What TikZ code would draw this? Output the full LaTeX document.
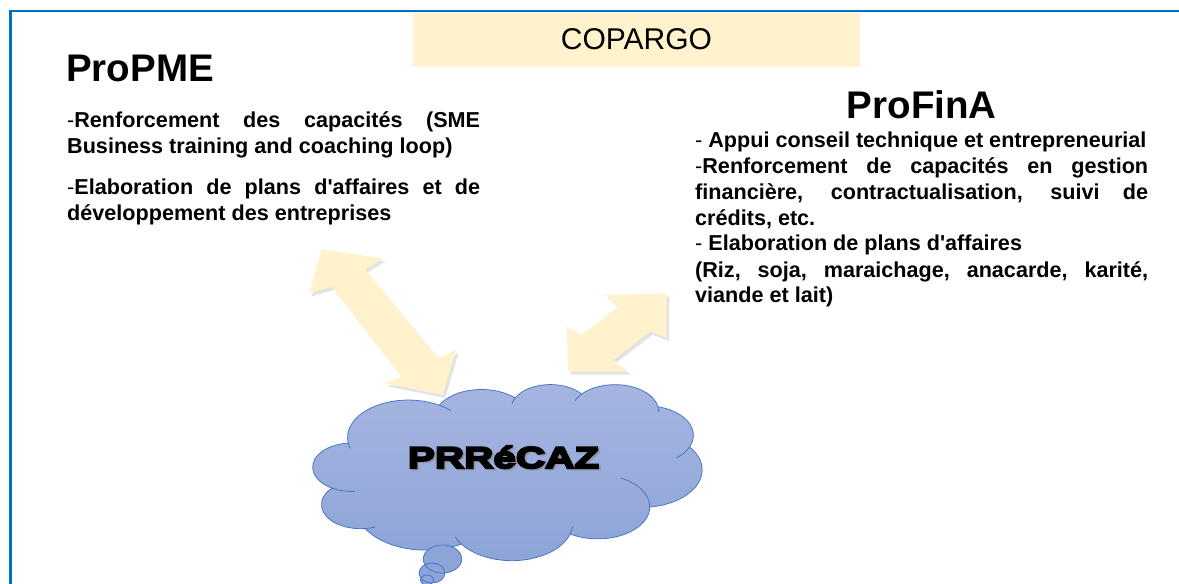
\documentclass[tikz,border=0pt]{standalone}
\usepackage{graphicx}
\usepackage{fontspec}
\setmainfont{Liberation Sans}
\newfontfamily\heavyfont[FakeBold=7,FakeStretch=1.35]{Liberation Sans Bold}
\usetikzlibrary{shadows}
\definecolor{frameblue}{HTML}{0070C0}
\definecolor{paleyellow}{HTML}{FFF2CC}
\definecolor{cloudtop}{HTML}{A6B5E0}
\definecolor{cloudbot}{HTML}{8DA4D8}
\definecolor{cloudline}{HTML}{4472C4}
\begin{document}
\begin{tikzpicture}[x=1pt,y=-1pt,
  bodytext/.style={anchor=base west, inner sep=0pt, font=\bfseries\fontsize{21.6}{25.7}\selectfont},
  titletext/.style={inner sep=0pt, font=\bfseries\fontsize{38.5}{44}\selectfont},
  blockarrow/.style={fill=paleyellow, draw=none, drop shadow={shadow xshift=2.5pt, shadow yshift=-3pt, opacity=0.22}},
  cloudedge/.style={draw=cloudline, line width=0.75pt},
  cloudlabel/.style={anchor=base, inner sep=0pt, font=\heavyfont\fontsize{30}{32}\selectfont},
]
\useasboundingbox (0,0) rectangle (1179,584);
\clip (0,0) rectangle (1179,584);
\fill[white] (0,0) rectangle (1179,584);

% frame
\draw[frameblue, line width=2.5pt] (10.5,600) -- (10.5,11) -- (1200,11);

% COPARGO banner
\fill[paleyellow] (413,13) rectangle (860,67);
\node[anchor=base, inner sep=0pt, font=\fontsize{30}{36}\selectfont] (copargo) at (636.5,49.3) {COPARGO};

% ProPME
\node[titletext, anchor=base west] (propme) at (66,81.7) {ProPME};
\node[bodytext] (l1) at (67,127.7) {\makebox[413pt][s]{{\mdseries-}Renforcement des capacités (SME}};
\node[bodytext] (l2) at (67,153.3) {Business training and coaching loop)};
\node[bodytext] (l3) at (67,194.3) {\makebox[413pt][s]{{\mdseries-}Elaboration de plans d\textquotesingle affaires et de}};
\node[bodytext] (l4) at (67,220) {développement des entreprises};

% ProFinA
\node[titletext, anchor=base] (profina) at (921.7,118.3) {ProFinA};
\node[bodytext] (r1) at (695,147.7) {{\mdseries-} Appui conseil technique et entrepreneurial};
\node[bodytext] (r2) at (695,173.3) {\makebox[453pt][s]{{\mdseries-}Renforcement de capacités en gestion}};
\node[bodytext] (r3) at (695,199.5) {\makebox[453pt][s]{financière, contractualisation, suivi de}};
\node[bodytext] (r4) at (695,225.5) {crédits, etc.};
\node[bodytext] (r5) at (695,250.7) {{\mdseries-} Elaboration de plans d\textquotesingle affaires};
\node[bodytext] (r6) at (695,277) {\makebox[453pt][s]{(Riz, soja, maraichage, anacarde, karité,}};
\node[bodytext] (r7) at (695,302.7) {viande et lait)};

% cloud
\begin{scope}[shift={(313pt,-384pt)}, x=0.90046pt, y=-0.40741pt]
\draw[cloudedge, top color=cloudtop, bottom color=cloudbot] (39.00,143.70)
  arc[x radius=67.53, y radius=91.90, start angle=172.25, end angle=300.36]
  arc[x radius=53.33, y radius=72.67, start angle=-152.02, end angle=-45.43]
  arc[x radius=43.65, y radius=59.45, start angle=-153.49, end angle=-37.32]
  arc[x radius=48.57, y radius=65.95, start angle=-139.69, end angle=-10.21]
  arc[x radius=53.33, y radius=72.73, start angle=-74.77, end angle=23.21]
  arc[x radius=67.75, y radius=92.20, start angle=-37.52, end angle=81.86]
  arc[x radius=57.85, y radius=78.67, start angle=0.46, end angle=121.98]
  arc[x radius=67.52, y radius=92.15, start angle=16.84, end angle=146.23]
  arc[x radius=77.20, y radius=105.43, start angle=58.99, end angle=150.20]
  arc[x radius=43.60, y radius=59.18, start angle=83.31, end angle=223.11]
  arc[x radius=43.45, y radius=59.45, start angle=120.36, end angle=264.11]
  -- cycle;
% creases
\draw[cloudedge] (43.08,204.23) ++(85.55:43.45 and 59.45) arc[x radius=43.45, y radius=59.45, start angle=85.55, end angle=120.36];
\draw[cloudedge] (52.96,295.95) ++(68.24:43.60 and 59.18) arc[x radius=43.60, y radius=59.18, start angle=68.24, end angle=83.31];
\draw[cloudedge] (220.93,341.47) ++(146.23:67.52 and 92.15) arc[x radius=67.52, y radius=92.15, start angle=146.23, end angle=158.47];
\draw[cloudedge] (220.93,341.47) ++(4.74:67.52 and 92.15) arc[x radius=67.52, y radius=92.15, start angle=4.74, end angle=16.84];
\draw[cloudedge] (316.19,301.43) ++(-64.03:57.85 and 78.67) arc[x radius=57.85, y radius=78.67, start angle=-64.03, end angle=0.46];
\draw[cloudedge] (369.18,125.98) ++(23.21:53.33 and 72.73) arc[x radius=53.33, y radius=72.73, start angle=23.21, end angle=49.63];
\draw[cloudedge] (335.39,67.49) ++(-10.21:48.57 and 65.95) arc[x radius=48.57, y radius=65.95, start angle=-10.21, end angle=0.82];
\draw[cloudedge] (335.39,67.49) ++(-156.29:48.57 and 65.95) arc[x radius=48.57, y radius=65.95, start angle=-156.29, end angle=-139.69];
\draw[cloudedge] (263.63,60.88) ++(-167.73:43.65 and 59.45) arc[x radius=43.65, y radius=59.45, start angle=-167.73, end angle=-153.49];
\draw[cloudedge] (105.91,131.31) ++(-59.64:67.53 and 91.90) arc[x radius=67.53, y radius=91.90, start angle=-59.64, end angle=-45.74];
\draw[cloudedge] (105.91,131.31) ++(163.19:67.53 and 91.90) arc[x radius=67.53, y radius=91.90, start angle=163.19, end angle=172.25];
\end{scope}

% thought bubbles
\fill[cloudbot] (442.5,559) ellipse [x radius=19.2, y radius=14]
  (432,573) ellipse [x radius=13, y radius=10]
  (427,580) ellipse [x radius=6.5, y radius=5];
\draw[cloudedge] (442.5,559) ellipse [x radius=19.2, y radius=14]
  (432,573) ellipse [x radius=13, y radius=10]
  (427,580) ellipse [x radius=6.5, y radius=5];

% cloud label
\node[cloudlabel, text=black!45, opacity=0.5] (prrshadow) at (505.5,469.5) {PRRéCAZ};
\node[cloudlabel] (prrecaz) at (503.5,468) {PRRéCAZ};

% block arrows
\fill[blockarrow] (321.7,249.3) -- (383.3,258.3) -- (365,269.3) -- (438.3,358.3) -- (456,350) -- (442.7,395) -- (385,383.3) -- (401.7,376.7) -- (331.7,286.7) -- (309.3,293.3) -- cycle;
\fill[blockarrow] (666.7,293.3) -- (666.7,338) -- (650,331.7) -- (613.3,360) -- (628.3,371.7) -- (568.3,371.7) -- (566.7,326.7) -- (581.7,335) -- (618.3,306.7) -- (605,295) -- cycle;
\end{tikzpicture}
\end{document}
